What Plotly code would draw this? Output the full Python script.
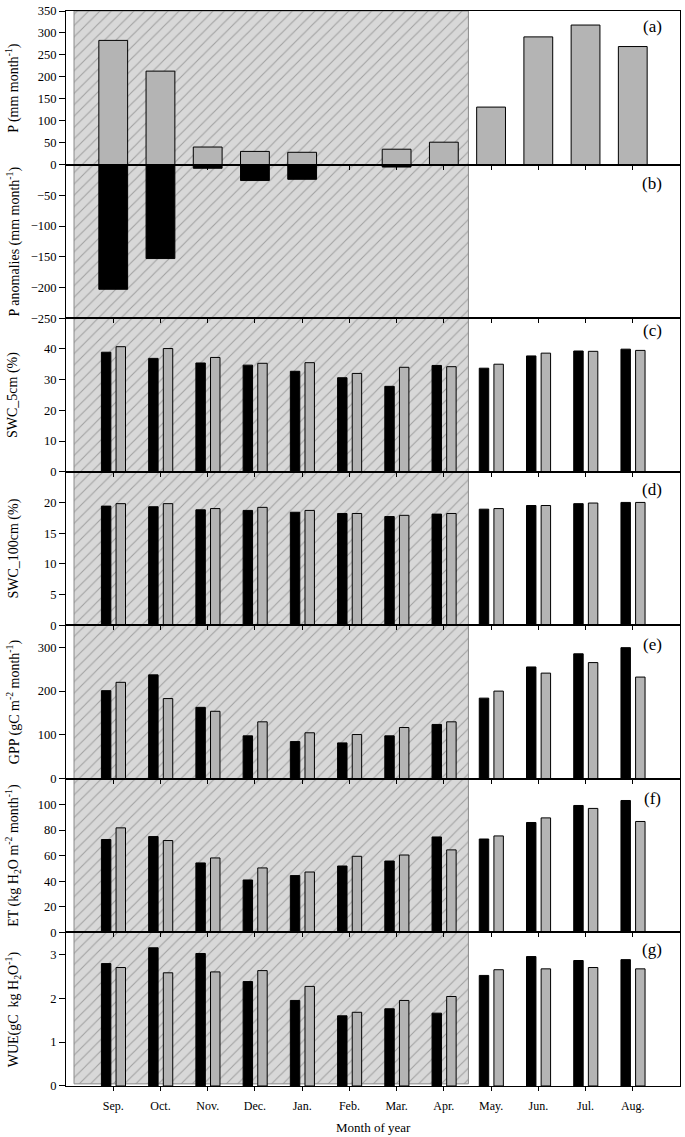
import plotly.graph_objects as go

months = ["Sep.", "Oct.", "Nov.", "Dec.", "Jan.", "Feb.", "Mar.", "Apr.",
          "May.", "Jun.", "Jul.", "Aug."]

# (a) precipitation and (b) anomalies
precip = [283, 213, 40, 30, 28, 0, 35, 51, 131, 291, 318, 269]
precip_anom = [-203, -153, -6, -26, -24, None, -4, None, None, None, None, None]

# (c)-(g): black series and grey series
swc5_black = [38.9, 36.9, 35.4, 34.7, 32.7, 30.6, 27.8, 34.6, 33.7, 37.7, 39.3, 39.9]
swc5_grey = [40.7, 40.1, 37.2, 35.3, 35.5, 32.0, 34.0, 34.2, 35.0, 38.6, 39.2, 39.5]
swc100_black = [19.4, 19.3, 18.8, 18.7, 18.4, 18.2, 17.7, 18.1, 18.9, 19.5, 19.8, 20.0]
swc100_grey = [19.8, 19.8, 19.0, 19.2, 18.7, 18.2, 17.9, 18.2, 19.0, 19.5, 19.9, 20.0]
gpp_black = [201, 237, 163, 98, 85, 82, 98, 124, 184, 255, 285, 299]
gpp_grey = [220, 183, 154, 130, 105, 101, 117, 130, 200, 241, 265, 232]
et_black = [72.6, 74.9, 54.3, 41.0, 44.4, 51.9, 55.8, 74.6, 73.0, 85.9, 99.2, 103.1]
et_grey = [81.7, 71.8, 58.2, 50.4, 47.2, 59.5, 60.5, 64.5, 75.4, 89.5, 96.9, 86.7]
wue_black = [2.79, 3.15, 3.02, 2.38, 1.95, 1.60, 1.76, 1.66, 2.52, 2.95, 2.86, 2.88]
wue_grey = [2.70, 2.58, 2.60, 2.63, 2.27, 1.68, 1.95, 2.04, 2.65, 2.67, 2.70, 2.67]

# shaded (dry) period, in month-index units
shade_x0, shade_x1 = -0.83, 7.52

y_titles = [
    "P (mm month<sup>-1</sup>)",
    "P anomalies (mm month<sup>-1</sup>)",
    "SWC_5cm (%)",
    "SWC_100cm (%)",
    "GPP (gC m<sup>-2</sup> month<sup>-1</sup>)",
    "ET (kg H<sub>2</sub>O m<sup>-2</sup> month<sup>-1</sup>)",
    "WUE(gC  kg H<sub>2</sub>O<sup>-1</sup>)",
]
panel_tags = ["(a)", "(b)", "(c)", "(d)", "(e)", "(f)", "(g)"]
y_ranges = [[0, 350], [-250, 0], [0, 50], [0, 25], [0, 350], [0, 120], [0, 3.5]]
y_ticks = [
    list(range(0, 351, 50)),
    list(range(-250, -49, 50)),
    list(range(0, 41, 10)),
    list(range(0, 21, 5)),
    [0, 100, 200, 300],
    list(range(0, 101, 20)),
    [0, 1, 2, 3],
]

FONT = "Liberation Serif, Times New Roman, serif"
GREY = "#b4b4b4"
xs = list(range(len(months)))
N = 7

fig = go.Figure()

# background shaded period on a full-height base axis pair
fig.add_trace(go.Scatter(
    x=[shade_x0, shade_x1, shade_x1, shade_x0, shade_x0],
    y=[0.002, 0.002, 1, 1, 0.002],
    mode="lines", fill="toself",
    line=dict(color="#8a8a8a", width=1),
    fillcolor="#d8d8d8",
    fillpattern=dict(shape="/", bgcolor="#d8d8d8", fgcolor="#6a6a6a",
                     size=8, solidity=0.14),
    xaxis="x", yaxis="y", hoverinfo="skip", showlegend=False,
))

def ax(i):
    return ("x%d" % (i + 2), "y%d" % (i + 2))

# panel a
xa, ya = ax(0)
fig.add_trace(go.Bar(x=xs, y=precip, width=0.61, offset=-0.305,
                     marker=dict(color=GREY, line=dict(color="black", width=1)),
                     xaxis=xa, yaxis=ya, showlegend=False))
# panel b
xa, ya = ax(1)
fig.add_trace(go.Bar(x=xs, y=precip_anom, width=0.61, offset=-0.305,
                     marker=dict(color="black", line=dict(color="black", width=1)),
                     xaxis=xa, yaxis=ya, showlegend=False))

pairs = [(swc5_black, swc5_grey), (swc100_black, swc100_grey),
         (gpp_black, gpp_grey), (et_black, et_grey), (wue_black, wue_grey)]
for k, (blk, gry) in enumerate(pairs):
    xa, ya = ax(k + 2)
    fig.add_trace(go.Bar(x=xs, y=blk, width=0.2, offset=-0.25,
                         marker=dict(color="black", line=dict(color="black", width=1)),
                         xaxis=xa, yaxis=ya, showlegend=False))
    fig.add_trace(go.Bar(x=xs, y=gry, width=0.2, offset=0.06,
                         marker=dict(color=GREY, line=dict(color="black", width=1)),
                         xaxis=xa, yaxis=ya, showlegend=False))

layout = dict(
    width=685, height=1137,
    margin=dict(l=66, r=4, t=7, b=51),
    paper_bgcolor="white", plot_bgcolor="rgba(0,0,0,0)",
    barmode="overlay", showlegend=False,
    font=dict(family=FONT, size=12, color="black"),
    xaxis=dict(domain=[0, 1], range=[-1, 12], visible=False, fixedrange=True),
    yaxis=dict(domain=[0, 1], range=[0, 1], visible=False, fixedrange=True),
)

annotations = []
tag_offsets = [16, 19, 12, 18, 19, 20, 17]
H = 1079.0
for i in range(N):
    top = 1 - i / N
    bot = 1 - (i + 1) / N
    xk = "xaxis%d" % (i + 2)
    yk = "yaxis%d" % (i + 2)
    layout[xk] = dict(
        domain=[0, 1], range=[-1, 12], anchor="y%d" % (i + 2),
        tickmode="array", tickvals=xs, ticktext=months,
        showticklabels=(i == N - 1), ticks="outside", ticklen=4,
        tickcolor="black", showline=True, linecolor="black", linewidth=1,
        mirror=True, showgrid=False, zeroline=False,
        tickfont=dict(family=FONT, size=12), ticklabelstandoff=5,
    )
    layout[yk] = dict(
        domain=[bot, top], range=y_ranges[i], anchor="x%d" % (i + 2),
        tickmode="array", tickvals=y_ticks[i],
        ticks="outside", ticklen=6, tickcolor="black",
        showline=True, linecolor="black", linewidth=1, mirror=True,
        showgrid=False, zeroline=False,
        tickfont=dict(family=FONT, size=12.5),
    )
    annotations.append(dict(
        text=y_titles[i], xref="paper", yref="paper",
        x=(13 - 66) / 615.0, y=(top + bot) / 2, xanchor="center", yanchor="middle",
        textangle=-90, showarrow=False, font=dict(family=FONT, size=14),
    ))
    annotations.append(dict(
        text=panel_tags[i], xref="paper", yref="paper",
        x=(653 - 66) / 615.0, y=top - tag_offsets[i] / H,
        xanchor="center", yanchor="middle", showarrow=False,
        font=dict(family=FONT, size=17),
    ))

annotations.append(dict(
    text="Month of year", xref="paper", yref="paper",
    x=0.5, y=-(1128 - 1086) / H, xanchor="center", yanchor="middle",
    showarrow=False, font=dict(family=FONT, size=13),
))
layout["annotations"] = annotations

fig.update_layout(**layout)
fig.write_html(
    "out.html",
    config={"displayModeBar": False},
    post_script="document.body.style.margin='0px';document.body.style.padding='0px';",
)
